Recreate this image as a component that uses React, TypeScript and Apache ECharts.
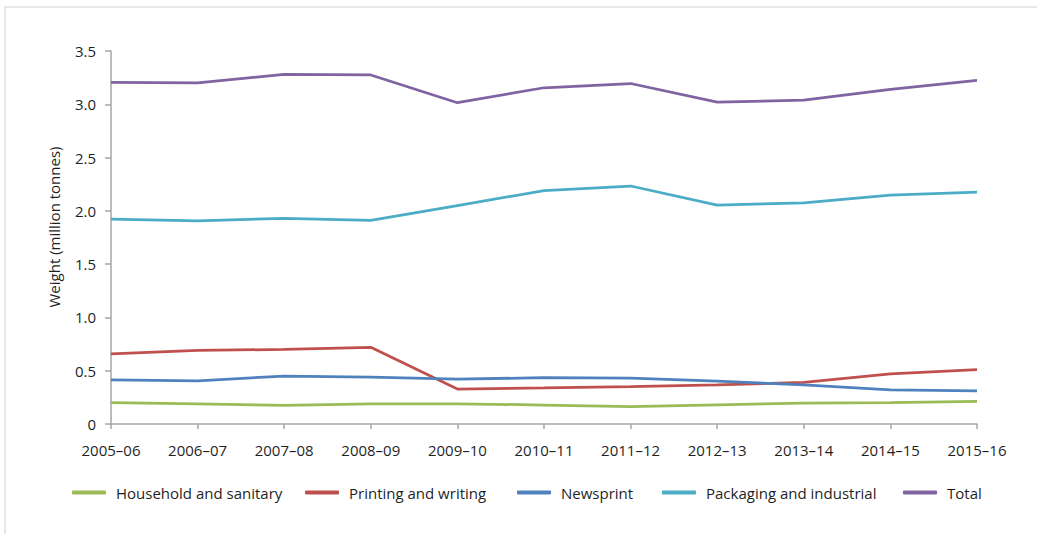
import React, { useEffect, useRef } from "react";
import * as echarts from "echarts";

const categories = [
  "2005–06", "2006–07", "2007–08", "2008–09", "2009–10", "2010–11",
  "2011–12", "2012–13", "2013–14", "2014–15", "2015–16",
];
const household = [0.2, 0.19, 0.175, 0.19, 0.19, 0.178, 0.162, 0.18, 0.197, 0.2, 0.212];
const printing = [0.657, 0.69, 0.7, 0.72, 0.328, 0.338, 0.35, 0.366, 0.39, 0.47, 0.51];
const newsprint = [0.413, 0.405, 0.45, 0.44, 0.422, 0.434, 0.43, 0.403, 0.366, 0.32, 0.31];
const packaging = [1.923, 1.905, 1.93, 1.91, 2.05, 2.19, 2.233, 2.054, 2.076, 2.148, 2.175];
const total = [3.205, 3.2, 3.28, 3.275, 3.015, 3.155, 3.195, 3.02, 3.04, 3.14, 3.225];

const seriesNames = [
  "Household and sanitary",
  "Printing and writing",
  "Newsprint",
  "Packaging and industrial",
  "Total",
];
const seriesData = [household, printing, newsprint, packaging, total];
const colors = ["#9BBB59", "#C0504D", "#4F81BD", "#4BACC6", "#8064A2"];
const legendLefts = [72, 305, 517, 662, 903];

const FONT = "'Open Sans', 'Noto Sans', sans-serif";
const TEXT = "#1f1f1f";

export default function App() {
  const ref = useRef<HTMLDivElement>(null);
  useEffect(() => {
    if (!ref.current) return;
    const chart = echarts.init(ref.current, undefined, { renderer: "svg" });
    chart.setOption({
      animation: false,
      backgroundColor: "#ffffff",
      textStyle: { fontFamily: FONT },
      grid: { left: 111, right: 60, top: 51, bottom: 110, containLabel: false },
      graphic: [
        {
          type: "rect",
          shape: { x: 5, y: 7, width: 1100, height: 600 },
          style: { fill: "none", stroke: "#D0D0D0", lineWidth: 1 },
          silent: true,
        },
        {
          type: "text",
          x: 54,
          y: 227,
          rotation: Math.PI / 2,
          style: {
            text: "Weight (million tonnes)",
            fontFamily: FONT,
            fontSize: 15,
            fill: TEXT,
            align: "center",
            verticalAlign: "middle",
          },
        },
      ],
      legend: seriesNames.map((name, i) => ({
        data: [name],
        left: legendLefts[i],
        top: 485,
        padding: 0,
        icon: "roundRect",
        itemWidth: 34,
        itemHeight: 4,
        selectedMode: false,
        textStyle: {
          fontFamily: FONT,
          fontSize: 15,
          color: TEXT,
          padding: [0, 0, 0, 5],
        },
      })),
      xAxis: {
        type: "category",
        data: categories,
        boundaryGap: false,
        axisLine: { lineStyle: { color: "#A6A6A6", width: 1.5 } },
        axisTick: { show: true, length: 5, lineStyle: { color: "#A6A6A6", width: 1.5 } },
        axisLabel: { color: TEXT, fontSize: 15, margin: 18, fontFamily: FONT },
        splitLine: { show: false },
      },
      yAxis: {
        type: "value",
        min: 0,
        max: 3.5,
        interval: 0.5,
        axisLine: { show: true, lineStyle: { color: "#A6A6A6", width: 1.5 } },
        axisTick: { show: true, length: 6, lineStyle: { color: "#A6A6A6", width: 1.5 } },
        axisLabel: {
          color: TEXT,
          fontSize: 15,
          margin: 15,
          fontFamily: FONT,
          formatter: (v: number) => (v === 0 ? "0" : v.toFixed(1)),
        },
        splitLine: { show: false },
      },
      series: seriesNames.map((name, i) => ({
        name,
        type: "line",
        data: seriesData[i],
        symbol: "none",
        color: colors[i],
        lineStyle: { color: colors[i], width: 2.75 },
      })),
    });
    return () => chart.dispose();
  }, []);
  return (
    <div
      ref={ref}
      style={{ position: "absolute", left: 0, top: 0, width: 1037, height: 534 }}
    />
  );
}
